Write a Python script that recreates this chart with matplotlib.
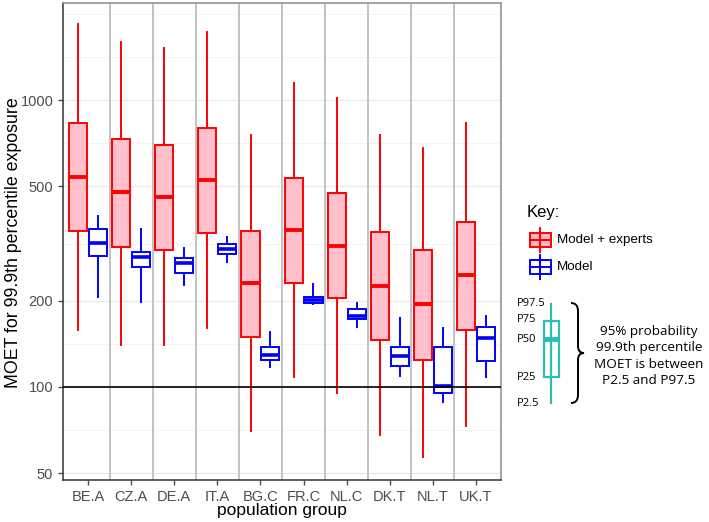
import numpy as np
import matplotlib
matplotlib.use('Agg')
import matplotlib.pyplot as plt
from matplotlib.patches import Rectangle, PathPatch
from matplotlib.path import Path

# %%
groups = ['BE.A', 'CZ.A', 'DE.A', 'IT.A', 'BG.C', 'FR.C', 'NL.C', 'DK.T', 'NL.T', 'UK.T']

# Model + experts: P2.5, P25, P50, P75, P97.5
exp_p025 = [158, 140, 140, 161, 70, 108, 95, 68, 57, 73]
exp_p25 = [350, 307, 300, 344, 149, 230, 204, 146, 124, 158]
exp_p50 = [539, 478, 459, 526, 230, 352, 310, 225, 195, 246]
exp_p75 = [832, 731, 697, 799, 350, 535, 474, 347, 300, 376]
exp_p975 = [1841, 1592, 1518, 1726, 755, 1146, 1016, 755, 680, 832]

# Model only
mod_p025 = [206, 198, 227, 273, 117, 194, 162, 109, 89, 108]
mod_p25 = [286, 262, 250, 291, 124, 196, 172, 118, 95, 123]
mod_p50 = [318, 284, 270, 303, 129, 201, 177, 128, 101, 148]
mod_p75 = [355, 295, 281, 315, 138, 206, 187, 138, 138, 162]
mod_p975 = [394, 355, 305, 333, 155, 228, 196, 174, 161, 177]

y_ticks = [50, 100, 200, 500, 1000]
y_minor = [70.7, 141, 316, 707, 1414, 2000]

# %%
def make_stats(lo, q1, med, q3, hi):
    return [dict(whislo=a, q1=b, med=c, q3=d, whishi=e, fliers=[])
            for a, b, c, d, e in zip(lo, q1, med, q3, hi)]

plt.rcParams['font.family'] = ['Liberation Sans', 'DejaVu Sans']

fig = plt.figure(figsize=(7.09, 5.22), dpi=100)
ax = fig.add_axes([63 / 709, 42 / 522, 438 / 709, 477 / 522])

x = np.arange(len(groups))
red = '#ff0000'
blue = '#0000ff'

ax.bxp(make_stats(exp_p025, exp_p25, exp_p50, exp_p75, exp_p975),
       positions=x - 0.23, widths=0.42, patch_artist=True, showcaps=False,
       boxprops=dict(facecolor='#ffc0cb', edgecolor=red, linewidth=1.4),
       whiskerprops=dict(color=red, linewidth=1.4),
       medianprops=dict(color=red, linewidth=2.8, solid_capstyle='butt'),
       zorder=3)
ax.bxp(make_stats(mod_p025, mod_p25, mod_p50, mod_p75, mod_p975),
       positions=x + 0.23, widths=0.42, patch_artist=True, showcaps=False,
       boxprops=dict(facecolor='white', edgecolor=blue, linewidth=1.4),
       whiskerprops=dict(color=blue, linewidth=1.4),
       medianprops=dict(color=blue, linewidth=2.6, solid_capstyle='butt'),
       zorder=3)

ax.set_yscale('log')
ax.set_ylim(47.4, 2180)
ax.set_xlim(-0.58, len(groups) - 0.42)
ax.set_yticks(y_ticks)
ax.set_yticklabels([str(t) for t in y_ticks])
ax.yaxis.set_minor_locator(matplotlib.ticker.NullLocator())
ax.set_xticks(x)
ax.set_xticklabels(groups)
ax.tick_params(axis='both', colors='#4d4d4d', labelsize=10.5, length=3.5, width=1)
ax.tick_params(axis='x', pad=4)

# grid
for v in y_ticks:
    ax.axhline(v, color='#ebebeb', linewidth=1.0, zorder=0)
for v in y_minor:
    ax.axhline(v, color='#f2f2f2', linewidth=0.6, zorder=0)
for v in x[:-1] + 0.5:
    ax.axvline(v, color='#bdbdbd', linewidth=1.3, zorder=1)
ax.axhline(100, color='black', linewidth=1.2, zorder=4)

for s in ax.spines.values():
    s.set_color('#8c8c8c')
    s.set_linewidth(1.1)
ax.spines['left'].set_color('#333333')
ax.spines['bottom'].set_color('#333333')

fig.text(14 / 709, 1 - 243 / 522, 'MOET for 99.9th percentile exposure', fontsize=12.8,
         rotation=90, ha='center', va='center')
fig.text(282 / 709, 1 - 511 / 522, 'population group', fontsize=12.5, ha='center', va='center')

# %%
# key and explanation, drawn in pixel coordinates
kx = fig.add_axes([0, 0, 1, 1], facecolor='none')
kx.set_xlim(0, 709)
kx.set_ylim(522, 0)
kx.axis('off')

kx.text(527, 212, 'Key:', fontsize=12, va='center', ha='left')
for yc, fc, ec, lab in [(240, '#ffb6c1', red, 'Model + experts'), (267, 'white', blue, 'Model')]:
    kx.plot([540, 540], [yc - 12, yc + 12], color=ec, linewidth=1.4)
    kx.add_patch(Rectangle((529.5, yc - 7), 21, 14, facecolor=fc, edgecolor=ec, linewidth=1.4))
    kx.plot([529.5, 550.5], [yc, yc], color=ec, linewidth=1.4)
    kx.text(557, yc, lab, fontsize=9.6, va='center', ha='left')

teal = '#2bbfb3'
kx.plot([551, 551], [304, 403], color=teal, linewidth=1.6)
kx.add_patch(Rectangle((544, 321), 15, 56, facecolor='white', edgecolor=teal, linewidth=1.6))
kx.plot([544, 559], [339, 339], color=teal, linewidth=3.5, solid_capstyle='butt')
for yy, lab in [(303, 'P97.5'), (320, 'P75'), (339, 'P50'), (377, 'P25'), (404, 'P2.5')]:
    kx.text(517, yy, lab, fontsize=8, va='center', ha='left', family=['Open Sans', 'DejaVu Sans'])

# curly brace
brace = Path([(571, 303), (578, 303), (578, 311),
              (578, 346),
              (578, 353), (584, 353),
              (578, 353), (578, 360),
              (578, 395),
              (578, 403), (571, 403)],
             [Path.MOVETO, Path.CURVE3, Path.CURVE3,
              Path.LINETO,
              Path.CURVE3, Path.CURVE3,
              Path.CURVE3, Path.CURVE3,
              Path.LINETO,
              Path.CURVE3, Path.CURVE3])
kx.add_patch(PathPatch(brace, facecolor='none', edgecolor='black', linewidth=1.4))

for yy, lab in [(331, '95% probability'), (348, '99.9th percentile'),
                (365, 'MOET is between'), (381, 'P2.5 and P97.5')]:
    kx.text(649, yy, lab, fontsize=9.7, va='center', ha='center', family=['Open Sans', 'DejaVu Sans'])

fig.savefig('out.png', dpi=100)
